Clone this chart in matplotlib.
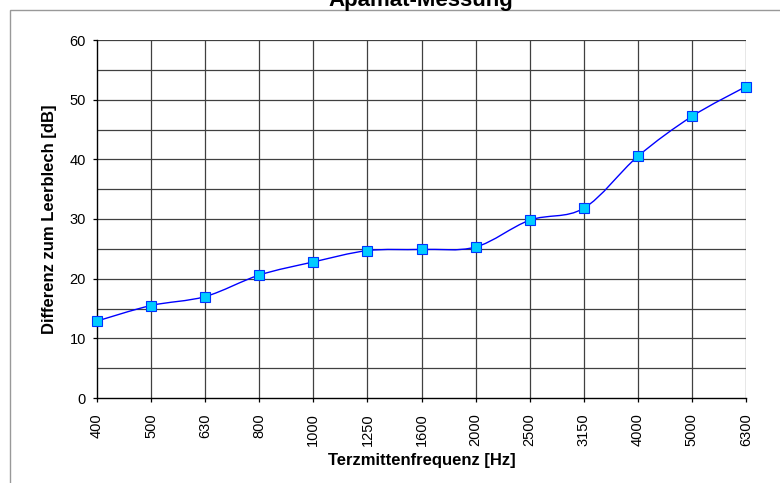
import numpy as np
import matplotlib
matplotlib.use("Agg")
import matplotlib.pyplot as plt
from matplotlib.path import Path
from matplotlib.patches import PathPatch, Rectangle

plt.rcParams['font.family'] = ['Liberation Sans', 'DejaVu Sans']

# Terzmittenfrequenzen (categories) and measured difference in dB
freq_labels = ["400", "500", "630", "800", "1000", "1250", "1600",
               "2000", "2500", "3150", "4000", "5000", "6300"]
diff_db = [12.9, 15.5, 17.0, 20.6, 22.8, 24.7, 24.9,
           25.3, 29.8, 31.8, 40.5, 47.2, 52.2]

y_ticks = [0, 10, 20, 30, 40, 50, 60]


def smooth_path(x, y):
    # Excel style smoothed line: cubic bezier segments (Catmull-Rom tangents)
    pts = np.column_stack([x, y])
    n = len(pts)
    verts = [pts[0]]
    codes = [Path.MOVETO]
    for i in range(n - 1):
        p0 = pts[i - 1] if i > 0 else pts[i]
        p1 = pts[i]
        p2 = pts[i + 1]
        p3 = pts[i + 2] if i + 2 < n else pts[i + 1]
        c1 = p1 + (p2 - p0) / 6.0
        c2 = p2 - (p3 - p1) / 6.0
        verts += [c1, c2, p2]
        codes += [Path.CURVE4] * 3
    return Path(verts, codes)


fig = plt.figure(figsize=(7.8, 4.83), dpi=100)
W, H = 780, 483

# chart area border (Excel style), running off the figure at right/bottom
fig.patches.append(Rectangle((10 / W, -0.1), 1.2, 1 - 10 / H + 0.1,
                             transform=fig.transFigure, fill=False,
                             edgecolor='#999999', linewidth=1.0))

ax = fig.add_axes([97 / W, (H - 398) / H, (746 - 97) / W, (398 - 40) / H])

x = np.arange(len(freq_labels))
ax.set_xlim(0, len(freq_labels) - 1)
ax.set_ylim(0, 60)

# gridlines
for xi in x[1:]:
    ax.axvline(xi, color='#404040', linewidth=0.9, zorder=1)
for yv in range(5, 61, 5):
    ax.axhline(yv, color='#404040', linewidth=0.9, zorder=1)

ax.add_patch(PathPatch(smooth_path(x.astype(float), np.array(diff_db)),
                       facecolor='none', edgecolor='#0000FF',
                       linewidth=1.0, zorder=3))
ax.plot(x, diff_db, linestyle='none', marker='s', markersize=6.5,
        markerfacecolor='#00CCFF', markeredgecolor='#0033FF',
        markeredgewidth=0.8, zorder=4, clip_on=False)

ax.set_xticks(x)
ax.set_xticklabels(freq_labels, rotation=90, fontsize=10.5)
ax.set_yticks(y_ticks)
ax.set_yticklabels([str(v) for v in y_ticks], fontsize=10.5)
ax.tick_params(axis='both', direction='out', length=3, width=0.9,
               color='black')
ax.tick_params(axis='y', pad=5)
ax.tick_params(axis='x', pad=8)

for side in ['top', 'right']:
    ax.spines[side].set_visible(False)
for side in ['left', 'bottom']:
    ax.spines[side].set_color('black')
    ax.spines[side].set_linewidth(1.0)

ax.set_xlabel("Terzmittenfrequenz [Hz]", fontsize=12, fontweight='bold',
              labelpad=5)
ax.set_ylabel("Differenz zum Leerblech [dB]", fontsize=12,
              fontweight='bold', labelpad=9)

fig.text(421 / W, 1 - 6 / H, "Apamat-Messung", ha='center', va='baseline',
         fontsize=16, fontweight='bold')

fig.savefig("out.png", dpi=100)
